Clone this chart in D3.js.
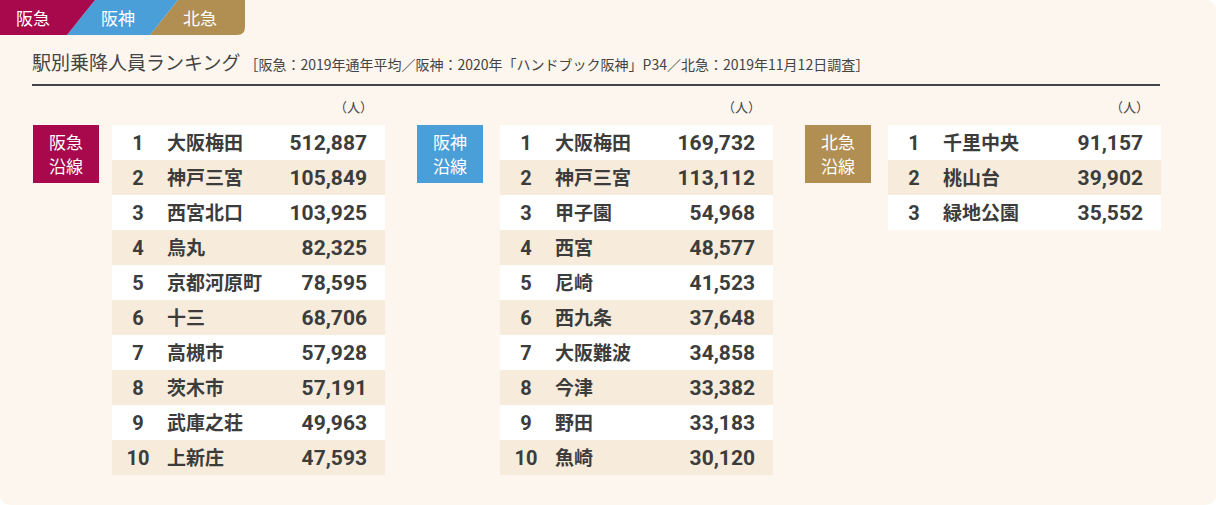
<!DOCTYPE html>
<html lang="ja">
<head>
<meta charset="UTF-8">
<script src="https://d3js.org/d3.v7.min.js"></script>
<style>
  body { margin: 0; background: #fff; }
  svg { display: block; font-family: 'Noto Sans CJK JP', 'Noto Sans', sans-serif; }
</style>
</head>
<body>
<svg id="chart" width="1216" height="505"></svg>
<script>
// data
const lines = ["阪急", "阪神", "北急"];
const lineColors = ["#a8084c", "#4b9fd8", "#b18f53"];
const hankyuStations = ["大阪梅田", "神戸三宮", "西宮北口", "烏丸", "京都河原町", "十三", "高槻市", "茨木市", "武庫之荘", "上新庄"];
const hankyuValues = [512887, 105849, 103925, 82325, 78595, 68706, 57928, 57191, 49963, 47593];
const hanshinStations = ["大阪梅田", "神戸三宮", "甲子園", "西宮", "尼崎", "西九条", "大阪難波", "今津", "野田", "魚崎"];
const hanshinValues = [169732, 113112, 54968, 48577, 41523, 37648, 34858, 33382, 33183, 30120];
const hokkyuStations = ["千里中央", "桃山台", "緑地公園"];
const hokkyuValues = [91157, 39902, 35552];

const svg = d3.select("#chart");
const fmt = d3.format(",");

svg.append("rect").attr("width", 1216).attr("height", 505).attr("rx", 10).attr("fill", "#fcf6ee");

// tabs
const tabs = svg.append("g");
tabs.append("path").attr("fill", lineColors[2])
  .attr("d", "M150,0 H245 V27 Q245,35 237,35 H150 L178,0 Z");
tabs.append("path").attr("fill", lineColors[1])
  .attr("d", "M95,0 H178 L150,35 H67 Z");
tabs.append("path").attr("fill", lineColors[0])
  .attr("d", "M0,0 H95 L67,35 H0 Z");
const tabX = [33, 118, 200];
lines.forEach((l, i) => {
  tabs.append("text").attr("x", tabX[i]).attr("y", 25).attr("text-anchor", "middle")
    .attr("fill", "#fff").attr("font-size", 17).text(l);
});

// title
svg.append("text").attr("x", 32).attr("y", 70).attr("fill", "#444")
  .call(t => {
    t.append("tspan").attr("font-size", 19).text("駅別乗降人員ランキング");
    t.append("tspan").attr("font-size", 14).attr("dx", 4)
      .text("［阪急：2019年通年平均／阪神：2020年「ハンドブック阪神」P34／北急：2019年11月12日調査］");
  });
svg.append("line").attr("x1", 32).attr("x2", 1160).attr("y1", 85).attr("y2", 85)
  .attr("stroke", "#444").attr("stroke-width", 2);

const panels = [
  { badgeX: 33, rowX: 112, stations: hankyuStations, values: hankyuValues },
  { badgeX: 417, rowX: 500, stations: hanshinStations, values: hanshinValues },
  { badgeX: 805, rowX: 888, stations: hokkyuStations, values: hokkyuValues }
];
const rowW = 273, rowH = 35, tableTop = 125;

panels.forEach((p, pi) => {
  const g = svg.append("g");
  const y = d3.scaleBand().domain(d3.range(p.stations.length)).range([tableTop, tableTop + rowH * p.stations.length]);
  g.append("rect").attr("x", p.badgeX).attr("y", tableTop).attr("width", 66).attr("height", 58)
    .attr("fill", lineColors[pi]);
  g.append("text").attr("x", p.badgeX + 33).attr("y", tableTop + 24).attr("text-anchor", "middle")
    .attr("fill", "#fff").attr("font-size", 17).text(lines[pi]);
  g.append("text").attr("x", p.badgeX + 33).attr("y", tableTop + 48).attr("text-anchor", "middle")
    .attr("fill", "#fff").attr("font-size", 17).text("沿線");
  g.append("text").attr("x", p.rowX + rowW - 12).attr("y", tableTop - 13).attr("text-anchor", "end")
    .attr("fill", "#444").attr("font-size", 13).text("（人）");
  const rows = g.selectAll("g.row").data(p.stations).join("g")
    .attr("transform", (d, i) => `translate(${p.rowX},${y(i)})`);
  rows.append("rect").attr("width", rowW).attr("height", rowH)
    .attr("fill", (d, i) => i % 2 ? "#f7ecdb" : "#fff");
  rows.append("text").attr("x", 26).attr("y", 25).attr("text-anchor", "middle")
    .attr("font-size", 20).attr("font-weight", "bold").attr("fill", "#3c3c3c")
    .attr("font-family", "Roboto, sans-serif").text((d, i) => i + 1);
  rows.append("text").attr("x", 55).attr("y", 25)
    .attr("font-size", 19).attr("font-weight", "bold").attr("fill", "#3c3c3c").text(d => d);
  rows.append("text").attr("x", rowW - 18).attr("y", 25).attr("text-anchor", "end")
    .attr("font-size", 21).attr("font-weight", "bold").attr("fill", "#3c3c3c")
    .attr("font-family", "Roboto, sans-serif").text((d, i) => fmt(p.values[i]));
});
</script>
</body>
</html>
